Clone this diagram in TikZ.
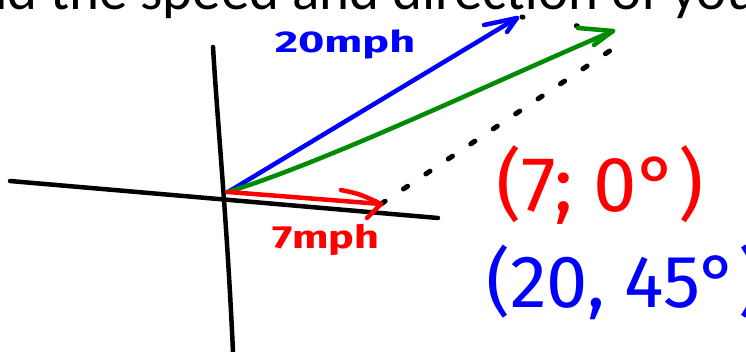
\documentclass[tikz,border=0pt]{standalone}
\usepackage{fontspec}
\setmainfont{Carlito}
\newfontfamily\hand{Fira Sans}
\definecolor{penblue}{RGB}{0,0,255}
\definecolor{pengreen}{RGB}{0,140,0}
\definecolor{penred}{RGB}{255,0,0}
\begin{document}
\begin{tikzpicture}[x=1pt,y=-1pt,line cap=round,line join=round,
  axis/.style={line width=4.5pt,black},
  vec/.style={line width=4.5pt},
  dotline/.style={line width=5pt,black,dash pattern=on 5pt off 22pt},
  hw/.style={font=\hand,inner sep=0pt}]
\useasboundingbox (0,0) rectangle (746,352);
\clip (0,0) rectangle (746,352);
\node[anchor=base west,font=\fontsize{57}{66}\selectfont,inner sep=0pt] (title) at (-62,10) {Find the speed and direction of your};
% axes
\coordinate (vtop) at (213,47);
\coordinate (vbot) at (233,352);
\coordinate (hl) at (10,181);
\coordinate (hr) at (438,218);
\draw[axis] (vtop) .. controls (218,130) and (227,220) .. (vbot);
\draw[axis] (hl) -- (hr);
% vectors
\coordinate (O) at (228,192);
\coordinate (btip) at (517,18);
\coordinate (gtip) at (613,31);
\coordinate (rtip) at (381,204);
\draw[dotline] (rtip) -- (617,46);
\draw[line width=5pt,black,dash pattern=on 1pt off 54pt] (522,17) -- (578,26);
\draw[vec,penblue] (O) -- (btip);
\draw[vec,penblue] (484,25) -- (btip) -- (507,32);
\draw[vec,pengreen] (O) .. controls (330,160) and (480,88) .. (gtip);
\draw[vec,pengreen] (578,28) -- (gtip) -- (594,45);
\draw[vec,penred] (O) .. controls (280,196) and (330,200) .. (rtip);
\draw[vec,penred] (341,190) .. controls (360,194) .. (rtip) -- (367,218);
% labels
\node[hw,penblue,font=\hand\bfseries\fontsize{30}{30}\selectfont,xscale=1.5] (l20) at (345,44) {20mph};
\node[hw,penred,font=\hand\bfseries\fontsize{32}{32}\selectfont,xscale=1.35] (l7) at (326,240) {7mph};
\node[hw,penred,font=\hand\fontsize{78}{78}\selectfont] (p7) at (600,185) {(7; 0°)};
\node[hw,penblue,font=\hand\fontsize{74}{74}\selectfont,anchor=west] (p20) at (486,282) {(20, 45°)};
\end{tikzpicture}
\end{document}
